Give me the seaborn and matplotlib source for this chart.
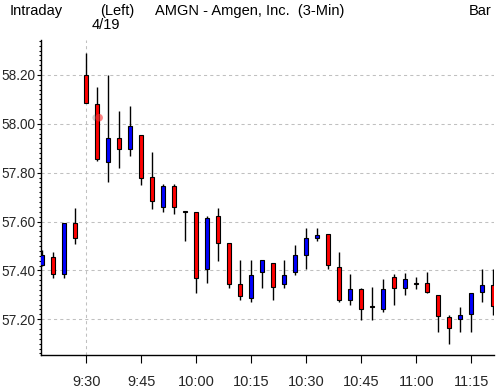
import numpy as np
import pandas as pd
import matplotlib
matplotlib.use("Agg")
import matplotlib.pyplot as plt
import seaborn as sns

# ---------------- data ----------------
times = ["9:18", "9:21", "9:24", "9:27", "9:30", "9:33", "9:36", "9:39", "9:42", "9:45",
         "9:48", "9:51", "9:54", "9:57", "10:00", "10:03", "10:06", "10:09", "10:12", "10:15",
         "10:18", "10:21", "10:24", "10:27", "10:30", "10:33", "10:36", "10:39", "10:42", "10:45",
         "10:48", "10:51", "10:54", "10:57", "11:00", "11:03", "11:06", "11:09", "11:12", "11:15",
         "11:18", "11:21"]
opens = [57.423, 57.453, 57.386, 57.592, 58.200, 58.080, 57.845, 57.940, 57.895, 57.953,
         57.782, 57.658, 57.745, 57.643, 57.641, 57.406, 57.621, 57.511, 57.344, 57.285,
         57.395, 57.432, 57.346, 57.395, 57.465, 57.533, 57.551, 57.412, 57.277, 57.323,
         57.254, 57.244, 57.371, 57.326, 57.350, 57.350, 57.301, 57.211, 57.203, 57.223,
         57.312, 57.342]
closes = [57.462, 57.386, 57.592, 57.533, 58.084, 57.855, 57.940, 57.895, 57.990, 57.777,
          57.686, 57.745, 57.658, 57.637, 57.367, 57.613, 57.514, 57.345, 57.296, 57.383,
          57.442, 57.334, 57.383, 57.461, 57.531, 57.543, 57.423, 57.277, 57.323, 57.244,
          57.250, 57.323, 57.326, 57.363, 57.346, 57.312, 57.215, 57.166, 57.219, 57.309,
          57.342, 57.256]
highs = [57.483, 57.476, 57.592, 57.654, 58.291, 58.150, 58.200, 58.052, 58.073, 57.953,
         57.884, 57.753, 57.753, 57.643, 57.641, 57.622, 57.655, 57.511, 57.442, 57.442,
         57.442, 57.432, 57.442, 57.502, 57.573, 57.573, 57.551, 57.475, 57.384, 57.330,
         57.331, 57.364, 57.384, 57.391, 57.371, 57.392, 57.301, 57.219, 57.252, 57.309,
         57.405, 57.405]
lows = [57.420, 57.369, 57.370, 57.509, 58.084, 57.849, 57.763, 57.820, 57.870, 57.750,
        57.652, 57.640, 57.632, 57.521, 57.308, 57.349, 57.439, 57.328, 57.279, 57.271,
        57.328, 57.279, 57.328, 57.382, 57.404, 57.521, 57.404, 57.271, 57.259, 57.197,
        57.197, 57.230, 57.259, 57.300, 57.322, 57.308, 57.148, 57.100, 57.148, 57.148,
        57.271, 57.218]

xtick_labels = ["9:30", "9:45", "10:00", "10:15", "10:30", "10:45", "11:00", "11:15"]
ytick_values = [57.20, 57.40, 57.60, 57.80, 58.00, 58.20]
session_open = "9:30"
session_date = "4/19"
cursor_time_offset = 3.5    # minutes after session open
cursor_price = 58.025

# ---------------- helpers ----------------
def to_min(t):
    h, m = t.split(":")
    return int(h) * 60 + int(m)

base = to_min(session_open)
df = pd.DataFrame({"time": times, "open": opens, "close": closes,
                   "high": highs, "low": lows})
df["x"] = [to_min(t) - base for t in df["time"]]
df["up"] = df["close"] >= df["open"]

sns.set_style("white")
plt.rcParams["font.family"] = ["Liberation Sans", "DejaVu Sans"]

W, H = 501, 392
fig = plt.figure(figsize=(W / 100, H / 100), dpi=100)
L, R, T, B = 41.3, 494.3, 40.0, 355.3
ax = fig.add_axes([L / W, (H - B) / H, (R - L) / W, (B - T) / H])

# wicks
ax.vlines(df["x"], df["low"], df["high"], color="black", lw=1.0, zorder=2)
# bodies
body_bottom = np.minimum(df["open"], df["close"])
body_h = np.maximum(np.abs(df["close"] - df["open"]), 0.004)
colors = ["#0000ff" if u else "#ff0000" for u in df["up"]]
ax.bar(df["x"], body_h, bottom=body_bottom, width=1.05, color=colors,
       edgecolor="black", linewidth=0.8, zorder=3)

# cursor glow
sns.scatterplot(x=[cursor_time_offset - 0.9], y=[cursor_price], s=25, color="#444444",
                alpha=0.25, edgecolor="none", ax=ax, zorder=4, legend=False)
sns.scatterplot(x=[cursor_time_offset], y=[cursor_price], s=30, color="#ff3030",
                alpha=0.6, edgecolor="none", ax=ax, zorder=4, legend=False)

# axes limits
xmin = (L - 86.3) / 55 * 15
xmax = (R - 86.3) / 55 * 15
ax.set_xlim(xmin, xmax)
ax.set_ylim(57.0525, 58.343)

# grid
gstyle = dict(color="#c0c0c0", linestyle=(0, (3, 3)), lw=0.75, zorder=1)
for v in ytick_values:
    ax.axhline(v, **gstyle)
ax.axvline(0, **gstyle)

# ticks
xticks = [to_min(t) - base for t in xtick_labels]
ax.set_xticks(xticks)
ax.set_xticklabels(xtick_labels)
ax.set_yticks(ytick_values)
ax.set_yticklabels([f"{v:.2f}" for v in ytick_values])
ax.set_yticks(np.arange(57.06, 58.34, 0.02), minor=True)
ax.tick_params(axis="x", direction="out", length=6, width=0.8, color="black",
               labelsize=10.5, pad=8, bottom=True)
ax.tick_params(axis="y", which="major", direction="out", length=3, width=0.8,
               color="black", labelsize=9.8, pad=1, left=True)
ax.tick_params(axis="y", which="minor", direction="out", length=1.6, width=0.8,
               color="black", left=True)

for s in ["top", "right"]:
    ax.spines[s].set_visible(False)
for s in ["left", "bottom"]:
    ax.spines[s].set_color("black")
    ax.spines[s].set_linewidth(1.0)
ax.set_xlabel("")
ax.set_ylabel("")

# header texts
def ftext(x, baseline, s):
    fig.text(x / W, 1 - baseline / H, s, fontsize=10.5, va="baseline", ha="left",
             color="black")

ftext(10, 15, "Intraday")
ftext(100, 15, "(Left)")
ftext(155, 15, "AMGN - Amgen, Inc.  (3-Min)")
ftext(469, 15, "Bar")
ftext(92, 29, session_date)

fig.savefig("out.png", dpi=100)
